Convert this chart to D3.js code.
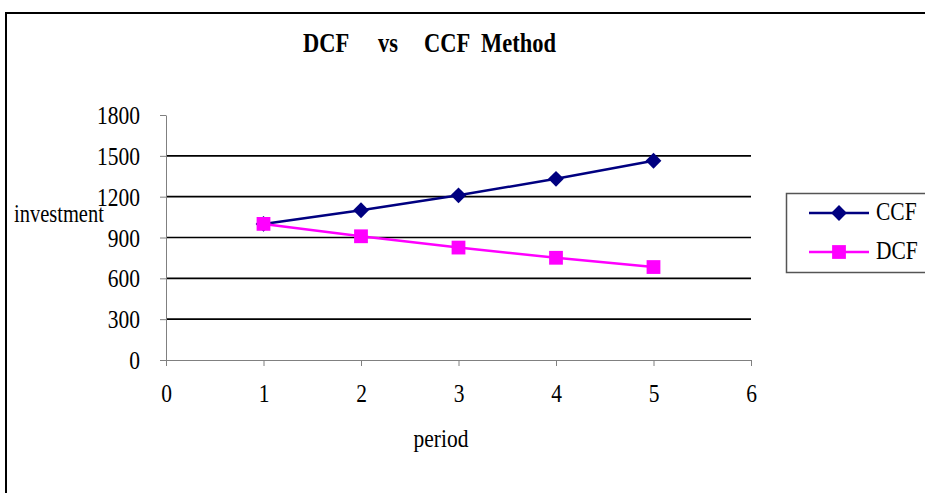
<!DOCTYPE html>
<html>
<head>
<meta charset="utf-8">
<script src="https://cdn.jsdelivr.net/npm/d3@7"></script>
<style>
  body { margin: 0; background: #fff; }
  text { font-family: "Liberation Serif", "Times New Roman", serif; fill: #000; }
</style>
</head>
<body>
<svg id="chart" width="925" height="493"></svg>
<script>
//----------------
// Data
//----------------
const periods = [1, 2, 3, 4, 5];
const ccf = [1000, 1100, 1210, 1331, 1464];
const dcf = [1000, 909, 826, 751, 683];
const yTicks = [0, 300, 600, 900, 1200, 1500, 1800];
const xTicks = [0, 1, 2, 3, 4, 5, 6];
const titleWords = ["DCF", "vs", "CCF", "Method"];

//----------------
// Layout
//----------------
const plot = {left: 166, right: 751, top: 115, bottom: 360};
const stretch = "scale(1,1.18)";   // text in the original looks a bit tall
const fontSize = "21.5px";

const svg = d3.select("#chart");

var x = d3.scaleLinear().domain([0, 6]).range([plot.left, plot.right]);
var y = d3.scaleLinear().domain([0, 1800]).range([plot.bottom, plot.top]);

function addText(px, py, str, anchor) {
  return svg.append("text")
    .attr("transform", "translate(" + px + "," + py + ") " + stretch)
    .attr("text-anchor", anchor || "start")
    .style("font-size", fontSize)
    .text(str);
}

// outer frame (cut by the window on right and bottom)
svg.append("rect")
  .attr("x", 6).attr("y", 13)
  .attr("width", 940).attr("height", 500)
  .attr("fill", "none")
  .attr("stroke", "#000")
  .attr("stroke-width", 2);

// title, word by word (wide gaps in the original)
var titleX = [303, 378, 424, 481];
titleWords.forEach(function(w, i) {
  addText(titleX[i], 52, w)
    .style("font-weight", "bold")
    .style("font-size", "22.5px");
});

// gridlines
svg.append("g").selectAll("line")
  .data(yTicks.filter(d => d > 0 && d < 1800))
  .enter().append("line")
    .attr("x1", plot.left).attr("x2", plot.right)
    .attr("y1", d => y(d)).attr("y2", d => y(d))
    .attr("stroke", "#000")
    .attr("stroke-width", 1.6);

// y axis
var yAxis = svg.append("g")
  .attr("transform", "translate(" + plot.left + ",0)")
  .call(d3.axisLeft(y).tickValues(yTicks).tickFormat(d3.format("d"))
    .tickSize(6).tickSizeOuter(0).tickPadding(20));
yAxis.select(".domain").attr("stroke", "#808080");
yAxis.selectAll(".tick line").attr("stroke", "#808080");
yAxis.selectAll("text")
  .attr("transform", stretch)
  .attr("dy", "0.34em")
  .style("font-size", fontSize)
  .style("font-family", "Liberation Serif, serif");

// x axis
var xAxis = svg.append("g")
  .attr("transform", "translate(0," + plot.bottom + ")")
  .call(d3.axisBottom(x).tickValues(xTicks).tickFormat(d3.format("d"))
    .tickSize(6).tickSizeOuter(0));
xAxis.select(".domain").attr("stroke", "#808080");
xAxis.selectAll(".tick line").attr("stroke", "#808080");
xAxis.selectAll("text")
  .attr("y", 0).attr("dy", 0)
  .attr("transform", "translate(0,42) " + stretch)
  .style("font-size", fontSize)
  .style("font-family", "Liberation Serif, serif");

// axis titles
addText(14, 222, "investment").style("font-size", "20.5px");
addText(441, 447, "period", "middle");

//----------------
// Series
//----------------
const series = [
  {name: "CCF", values: ccf, color: "#000080", rotate: 45, size: 125},
  {name: "DCF", values: dcf, color: "#FF00FF", rotate: 0, size: 190}
];

var line = d3.line()
  .x((d, i) => x(periods[i]))
  .y(d => y(d));

series.forEach(function(s) {
  var g = svg.append("g");
  g.append("path")
    .datum(s.values)
    .attr("d", line)
    .attr("fill", "none")
    .attr("stroke", s.color)
    .attr("stroke-width", 2.5);
  g.selectAll("path.pt")
    .data(s.values)
    .enter().append("path")
      .attr("class", "pt")
      .attr("transform", (d, i) => "translate(" + x(periods[i]) + "," + y(d) + ") rotate(" + s.rotate + ")")
      .attr("d", d3.symbol().type(d3.symbolSquare).size(s.size))
      .attr("fill", s.color);
});

//----------------
// Legend
//----------------
var legend = svg.append("g");
legend.append("rect")
  .attr("x", 786.5).attr("y", 193.5)
  .attr("width", 160).attr("height", 79)
  .attr("fill", "#fff")
  .attr("stroke", "#555")
  .attr("stroke-width", 1.5);

series.forEach(function(s, i) {
  var ly = 213 + i * 39;
  legend.append("line")
    .attr("x1", 809).attr("x2", 869)
    .attr("y1", ly).attr("y2", ly)
    .attr("stroke", s.color)
    .attr("stroke-width", 2.5);
  legend.append("path")
    .attr("transform", "translate(839," + ly + ") rotate(" + s.rotate + ")")
    .attr("d", d3.symbol().type(d3.symbolSquare).size(s.size))
    .attr("fill", s.color);
  addText(876, ly + 7, s.name);
});
</script>
</body>
</html>
